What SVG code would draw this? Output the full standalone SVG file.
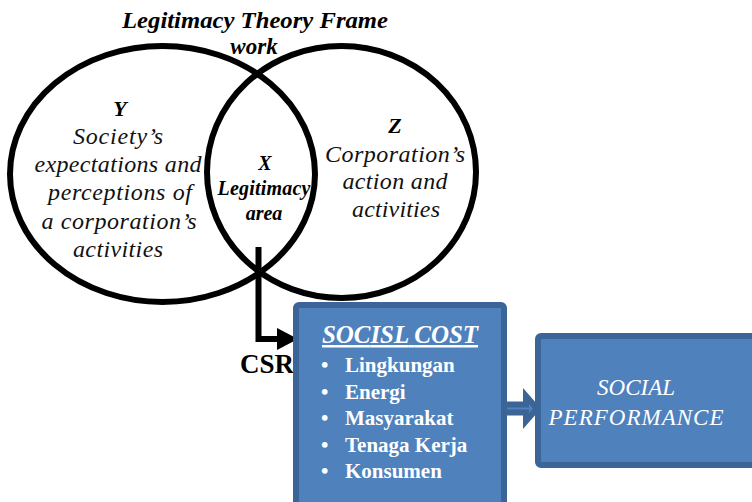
<svg xmlns="http://www.w3.org/2000/svg" width="752" height="502" viewBox="0 0 752 502" font-family="Liberation Serif, Times New Roman, serif">
<style>
.ell{fill:none;stroke:#000;stroke-width:6}
.ser{font-family:'Liberation Serif',serif}
.ti{font-style:italic;font-size:24px;fill:#111;text-anchor:middle}
.tbi{font-style:italic;font-weight:bold;fill:#000;text-anchor:middle}
.box{fill:#4F81BD;stroke:#3B6497;stroke-width:6}
.wb{font-weight:bold;font-size:21px;fill:#fff}
.wi{font-style:italic;font-size:23px;fill:#fff;text-anchor:middle}
</style>
<rect width="752" height="502" fill="#fff"/>
<g id="title">
<text class="ser tbi" x="255" y="28" font-size="23" textLength="266" lengthAdjust="spacingAndGlyphs">Legitimacy Theory Frame</text>
<text class="ser tbi" x="254" y="54" font-size="23">work</text>
</g>
<g id="circle-y">
<ellipse class="ell" cx="162.5" cy="174" rx="152.5" ry="128"/>
<text class="ser tbi" x="120" y="116" font-size="22">Y</text>
<text class="ser ti" x="118" y="144" textLength="90">Society’s</text>
<text class="ser ti" x="118" y="172" textLength="167">expectations and</text>
<text class="ser ti" x="120" y="200" textLength="144">perceptions of</text>
<text class="ser ti" x="119" y="229" textLength="155">a corporation’s</text>
<text class="ser ti" x="118" y="257" textLength="90">activities</text>
</g>
<g id="circle-z">
<ellipse class="ell" cx="341.5" cy="172" rx="134.5" ry="126"/>
<text class="ser tbi" x="395" y="133" font-size="22">Z</text>
<text class="ser ti" x="395" y="162" textLength="140">Corporation’s</text>
<text class="ser ti" x="395" y="189" textLength="105">action and</text>
<text class="ser ti" x="396" y="217" textLength="88">activities</text>
</g>
<g id="area-x">
<text class="ser tbi" x="265" y="170" font-size="20">X</text>
<text class="ser tbi" x="264" y="195" font-size="20" textLength="93">Legitimacy</text>
<text class="ser tbi" x="264" y="220" font-size="20">area</text>
</g>
<g id="connectors">
<path d="M258.5,247 V339 H279" fill="none" stroke="#000" stroke-width="6"/>
<polygon points="277,328 298,339 277,350" fill="#000"/>
<text class="ser" x="240" y="373" font-size="27" font-weight="bold" fill="#000">CSR</text>
<polygon points="500,404.5 526,404.5 526,396 537,408.5 526,421 526,412.5 500,412.5" fill="#4F81BD" stroke="#3B6497" stroke-width="6"/>
</g>
<g id="social-cost">
<rect class="box" x="296" y="305" width="208" height="210" rx="3"/>
<text class="ser" x="400" y="343" font-size="25" font-weight="bold" font-style="italic" fill="#fff" text-anchor="middle" text-decoration="underline" textLength="156">SOCISL COST</text>
<text class="ser wb" x="321" y="372">•</text><text class="ser wb" x="345" y="372">Lingkungan</text>
<text class="ser wb" x="321" y="398.5">•</text><text class="ser wb" x="345" y="398.5">Energi</text>
<text class="ser wb" x="321" y="425">•</text><text class="ser wb" x="345" y="425">Masyarakat</text>
<text class="ser wb" x="321" y="451.5">•</text><text class="ser wb" x="345" y="451.5">Tenaga Kerja</text>
<text class="ser wb" x="321" y="478">•</text><text class="ser wb" x="345" y="478">Konsumen</text>
</g>
<g id="social-performance">
<rect class="box" x="538" y="336" width="230" height="129" rx="3"/>
<text class="ser wi" x="636" y="395">SOCIAL</text>
<text class="ser wi" x="636" y="425" textLength="175">PERFORMANCE</text>
</g>
</svg>
